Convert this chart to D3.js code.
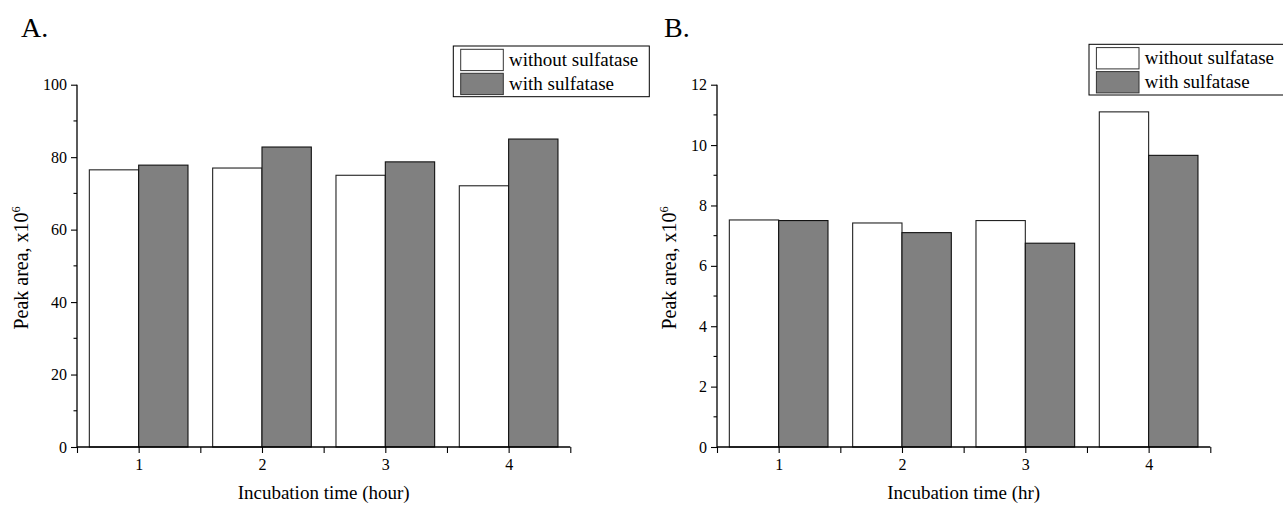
<!DOCTYPE html>
<html>
<head>
<meta charset="utf-8">
<script src="https://cdn.jsdelivr.net/npm/d3@7"></script>
<style>
  html, body { margin: 0; padding: 0; background: #fff; }
  svg { display: block; }
  svg text { font-family: "Liberation Serif", "Times New Roman", "DejaVu Serif", serif !important; fill: #000; }
</style>
</head>
<body>
<svg id="chart" width="1283" height="506"></svg>
<script>
// Incubation time points (hours)
const hours = [1, 2, 3, 4];
const seriesNames = ["without sulfatase", "with sulfatase"];
const seriesFill = ["#ffffff", "#808080"];

// Panel A: peak area (x10^6)
const aWithout = [76.5, 77.0, 75.0, 72.1];
const aWith = [77.8, 82.8, 78.7, 85.0];
const aYTicks = [0, 20, 40, 60, 80, 100];

// Panel B: peak area (x10^6)
const bWithout = [7.52, 7.42, 7.50, 11.1];
const bWith = [7.50, 7.10, 6.75, 9.66];
const bYTicks = [0, 2, 4, 6, 8, 10, 12];

const svg = d3.select("#chart");

function drawPanel(opt) {
  const g = svg.append("g");
  const x = d3.scaleLinear().domain([0.5, 4.5]).range([opt.left, opt.left + 493.3]);
  const y = d3.scaleLinear().domain([0, opt.yMax]).range([447, 84.7]);
  const barW = x(1.4) - x(1);

  // bars
  [opt.without, opt.withS].forEach((vals, si) => {
    g.selectAll(null)
      .data(vals.map((v, i) => ({ h: hours[i], v })))
      .join("rect")
      .attr("x", d => si === 0 ? x(d.h - 0.4) : x(d.h))
      .attr("y", d => y(d.v))
      .attr("width", barW)
      .attr("height", d => y(0) - y(d.v))
      .attr("fill", seriesFill[si])
      .attr("stroke", si === 0 ? "#222" : "#111")
      .attr("stroke-width", 1.1);
  });

  // y axis: labelled major ticks plus unlabelled minor ticks halfway between
  const yStep = opt.yTicks[1] - opt.yTicks[0];
  const yMinor = d3.range(yStep / 2, opt.yMax, yStep);
  const yAxis = g.append("g").attr("transform", `translate(${opt.left},0)`)
    .call(d3.axisLeft(y).tickValues(opt.yTicks).tickSize(6).tickPadding(4).tickFormat(d3.format("d")));
  yAxis.selectAll(".domain").attr("d", `M0,${y(opt.yMax)}V${y(0)}`);
  g.append("g").attr("transform", `translate(${opt.left},0)`)
    .selectAll("line").data(yMinor).join("line")
    .attr("x1", -3.5).attr("x2", 0)
    .attr("y1", d => y(d)).attr("y2", d => y(d))
    .attr("stroke", "#000").attr("stroke-width", 1.1);

  // x axis: ticks every half hour, labels on whole hours
  const xAxis = g.append("g").attr("transform", `translate(0,${y(0)})`)
    .call(d3.axisBottom(x).tickValues([0.5, 1, 1.5, 2, 2.5, 3, 3.5, 4, 4.5]).tickSize(6).tickPadding(6)
      .tickFormat(d => Number.isInteger(d) ? d : ""));
  xAxis.selectAll(".domain").attr("d", `M${x(0.5)},0H${x(4.5)}`);

  [yAxis, xAxis].forEach(a => {
    a.attr("font-family", null).attr("font-size", null);
    a.selectAll(".domain").attr("stroke", "#000").attr("stroke-width", 1.3);
    a.selectAll(".tick line").attr("stroke", "#000").attr("stroke-width", 1.1);
    a.selectAll(".tick text").attr("font-size", 16).attr("fill", "#000");
  });

  // axis titles
  g.append("text")
    .attr("x", (x(0.5) + x(4.5)) / 2).attr("y", 499)
    .attr("text-anchor", "middle").attr("font-size", 19)
    .text(opt.xTitle);
  const yt = g.append("text")
    .attr("transform", `translate(${opt.left - opt.yTitleOffset},${(y(0) + y(opt.yMax)) / 2 + 2}) rotate(-90)`)
    .attr("text-anchor", "middle").attr("font-size", 20);
  yt.append("tspan").text("Peak area, x10");
  yt.append("tspan").attr("font-size", 12.5).attr("dy", -8).text("6");

  // panel letter
  g.append("text").attr("x", opt.letterX).attr("y", 37)
    .attr("font-size", 28).text(opt.letter);

  // legend
  const lg = g.append("g").attr("transform", `translate(${opt.legendX},${opt.legendY})`);
  lg.append("rect").attr("x", 0).attr("y", 0).attr("width", 196).attr("height", 50.7)
    .attr("fill", "#fff").attr("stroke", "#000").attr("stroke-width", 1);
  seriesNames.forEach((name, i) => {
    lg.append("rect").attr("x", 7.4).attr("y", 3.3 + i * 24).attr("width", 42.6).attr("height", 21.3)
      .attr("fill", seriesFill[i]).attr("stroke", "#333").attr("stroke-width", 1);
    lg.append("text").attr("x", 55.7).attr("y", 19.5 + i * 24)
      .attr("font-size", 19).text(name);
  });
}

drawPanel({
  left: 77, yMax: 100, yTicks: aYTicks, without: aWithout, withS: aWith,
  xTitle: "Incubation time (hour)", letter: "A.", letterX: 21, yTitleOffset: 49,
  legendX: 453.3, legendY: 46
});
drawPanel({
  left: 717, yMax: 12, yTicks: bYTicks, without: bWithout, withS: bWith,
  xTitle: "Incubation time (hr)", letter: "B.", letterX: 664, yTitleOffset: 41,
  legendX: 1089, legendY: 44.3
});
</script>
</body>
</html>
